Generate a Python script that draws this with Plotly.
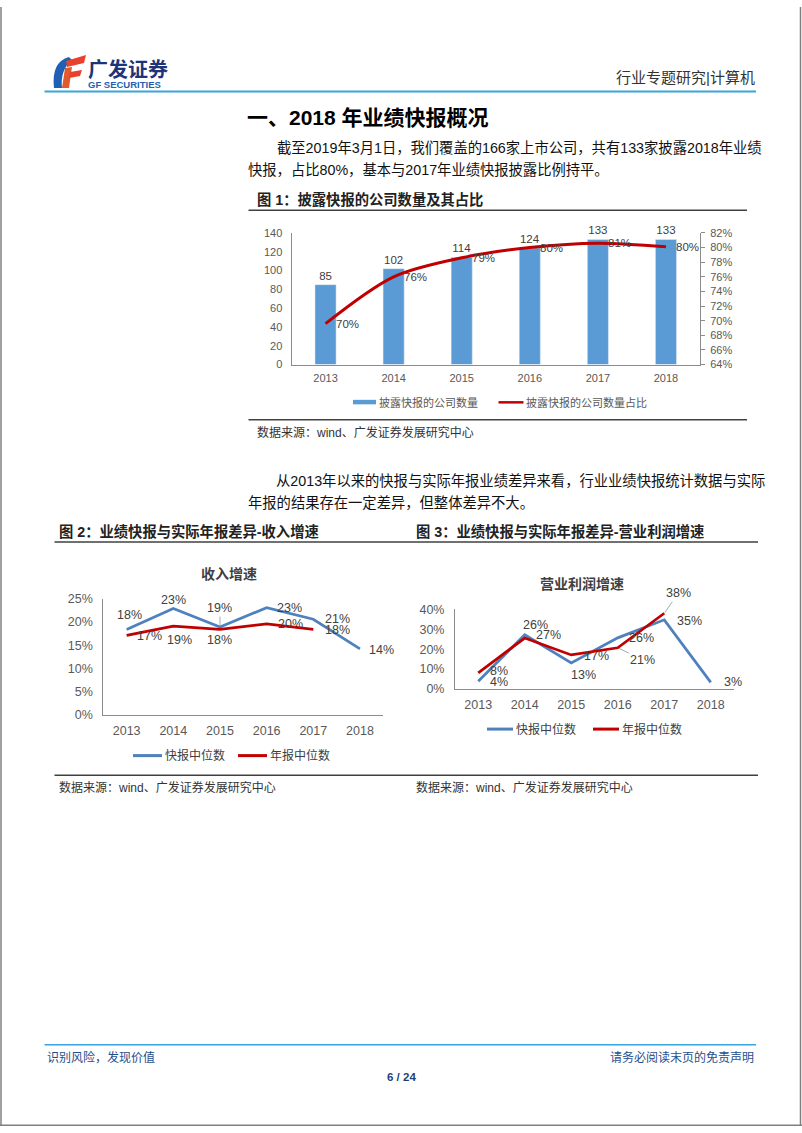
import plotly.graph_objects as go

PAGE_W, PAGE_H = 802, 1133
OFF = 0
W, H = PAGE_W, PAGE_H
VSCALE = 1.0133  # small vertical stretch about mid-page

# ---------------- data ----------------
years = ["2013", "2014", "2015", "2016", "2017", "2018"]
years_annual = ["2013", "2014", "2015", "2016", "2017"]

# Fig 1: companies disclosing flash reports & share
disclosed_count = [85, 102, 114, 124, 133, 133]
disclosed_ratio = [69.6, 76.0, 78.6, 80.0, 80.6, 80.1]
count_ticks = [0, 20, 40, 60, 80, 100, 120, 140]
ratio_ticks = [64, 66, 68, 70, 72, 74, 76, 78, 80, 82]

# Fig 2: revenue growth (median)
rev_flash = [18.4, 22.9, 18.9, 23.1, 20.6, 14.2]
rev_annual = [17.1, 19.1, 18.4, 19.6, 18.4]
rev_ticks = [0, 5, 10, 15, 20, 25]

# Fig 3: operating profit growth (median)
op_flash = [3.8, 27.3, 13.1, 25.7, 34.8, 3.3]
op_annual = [8.1, 25.6, 17.1, 20.7, 38.1]
op_ticks = [0, 10, 20, 30, 40]

# label offsets (px) : style only
rev_flash_off = [(3, -14, False), (0, -9, False), (0, -19, True), (23, 0, False), (24, 0, False), (22, 1, False)]
rev_annual_off = [(23, 1, False), (6, 14, False), (0, 11, False), (24, 0, False), (24, 1, False)]
op_flash_off = [(21, 1, False), (24, 0, False), (12, 12, False), (24, 0, False), (25, 1, False), (22, 0, False)]
op_annual_off = [(21, -2, False), (11, -13, False), (25, 1, False), (25, 12, True), (14, -20, True)]

# ---------------- helpers ----------------
def px(x):
    return (x - OFF) / W


def py(y):
    yy = 531 + (y - 531) * VSCALE
    return 1 - (yy - OFF) / H


def py_raw(y):
    return 1 - y / H


SANS = "Liberation Sans, Arial, Noto Sans CJK SC, sans-serif"
CJK = "Liberation Sans, Arial, Noto Sans CJK SC, sans-serif"

BLUE_BAR = "#5b9bd5"
BLUE_LINE = "#4f81bd"
RED = "#c00000"
TICK = "#595959"
LBL = "#404040"
AXIS = "#8c8c8c"

annotations = []
shapes = []


def text(x, y, s, size, color="#000000", bold=False, xanchor="left", family=CJK):
    annotations.append(dict(
        x=px(x), y=py(y), xref="paper", yref="paper", text=("<b>%s</b>" % s) if bold else s,
        showarrow=False, xanchor=xanchor, yanchor="middle",
        font=dict(size=size, color=color, family=family),
    ))


def hline(x0, x1, y, color, width):
    shapes.append(dict(type="line", xref="paper", yref="paper", x0=px(x0), x1=px(x1), y0=py(y), y1=py(y),
                       line=dict(color=color, width=width)))


def path(cmds, color):
    parts = []
    for c in cmds:
        op = c[0]
        pts = c[1:]
        parts.append(op + " " + " ".join("%.5f,%.5f" % (px(a), py(b)) for a, b in pts))
    shapes.append(dict(type="path", xref="paper", yref="paper", path=" ".join(parts) + " Z",
                       fillcolor=color, line=dict(width=0)))


def rect(x0, y0, x1, y1, color):
    shapes.append(dict(type="rect", xref="paper", yref="paper", x0=px(x0), x1=px(x1), y0=py(y1), y1=py(y0),
                       fillcolor=color, line=dict(width=0)))


# ---------------- page frame ----------------
for xx in (1, 800.5):
    shapes.append(dict(type="line", xref="paper", yref="paper", x0=px(xx), x1=px(xx), y0=py_raw(0),
                       y1=py_raw(1132.5), line=dict(color="#808080", width=1.5)))
shapes.append(dict(type="line", xref="paper", yref="paper", x0=0, x1=1, y0=py_raw(1132.3), y1=py_raw(1132.3),
                   line=dict(color="#808080", width=1.5)))

# ---------------- header ----------------
path([("M", (69, 57)), ("Q", (51, 62), (54, 88)), ("L", (62, 88)), ("Q", (60, 70), (72, 60))], "#1f5fb4")
path([("M", (66, 61)), ("L", (86, 55)), ("L", (84, 63)), ("L", (67, 67))], "#e8412c")
path([("M", (65, 68)), ("L", (72, 67)), ("L", (69, 88)), ("L", (62, 88))], "#e25a2c")
path([("M", (70, 72)), ("L", (82, 70)), ("L", (80, 76)), ("L", (69, 78))], "#e8412c")
text(86, 70, "广发证券", 20, "#1d3479", bold=True)
text(86, 84.5, "GF SECURITIES", 9.5, "#1f5fb4", bold=True, family=SANS)
text(757, 77, "行业专题研究|计算机", 15, "#333333", xanchor="right")
hline(44.5, 756, 91.5, "#3aa3dd", 2)

# ---------------- title & paragraph ----------------
text(245, 117, "一、2018 年业绩快报概况", 21, "#000000", bold=True)
text(275, 148, "截至2019年3月1日，我们覆盖的166家上市公司，共有133家披露2018年业绩", 14.3, "#111111")
text(246, 170, "快报，占比80%，基本与2017年业绩快报披露比例持平。", 14.3, "#111111")

# ---------------- figure 1 ----------------
text(255, 199, "图 1：披露快报的公司数量及其占比", 14.3, "#222222", bold=True)
hline(248.5, 747, 210, "#404040", 1.5)
hline(248.5, 747, 419.5, "#404040", 1.5)
text(255, 432, "数据来源：wind、广发证券发展研究中心", 12, "#333333")
# legend
rect(353, 399.5, 376, 404, BLUE_BAR)
text(377, 402, "披露快报的公司数量", 11, TICK)
hline(498.5, 523.5, 402, RED, 2.5)
text(524, 402, "披露快报的公司数量占比", 11, TICK)

# ---------------- paragraph 2 ----------------
text(274, 481, "从2013年以来的快报与实际年报业绩差异来看，行业业绩快报统计数据与实际", 14.3, "#111111")
text(246, 503, "年报的结果存在一定差异，但整体差异不大。", 14.3, "#111111")

# ---------------- figure 2 / 3 headers ----------------
text(57, 531, "图 2：业绩快报与实际年报差异-收入增速", 14.3, "#222222", bold=True)
text(414, 531, "图 3：业绩快报与实际年报差异-营业利润增速", 14.3, "#222222", bold=True)
hline(54.5, 758, 541.5, "#404040", 1.5)
hline(54.5, 758, 774.5, "#404040", 1.5)
text(57, 787, "数据来源：wind、广发证券发展研究中心", 12, "#333333")
text(414, 787, "数据来源：wind、广发证券发展研究中心", 12, "#333333")

# chart titles
text(228.5, 574, "收入增速", 14, LBL, bold=True, xanchor="center")
text(582, 584, "营业利润增速", 14, LBL, bold=True, xanchor="center")

# chart 2 legend
hline(133, 162, 755, BLUE_LINE, 3)
text(163, 755, "快报中位数", 12, LBL)
hline(238, 267, 755, RED, 3)
text(268, 755, "年报中位数", 12, LBL)
# chart 3 legend
hline(487, 513, 728.5, BLUE_LINE, 3)
text(514, 728.5, "快报中位数", 12, LBL)
hline(593, 619, 728.5, RED, 3)
text(620, 728.5, "年报中位数", 12, LBL)

# ---------------- footer ----------------
hline(44.5, 756, 1044, "#3aa3dd", 1.5)
text(45, 1057, "识别风险，发现价值", 12, "#1f4e8c")
text(756, 1057, "请务必阅读末页的免责声明", 12, "#1f4e8c", xanchor="right")
text(401, 1076, "6 / 24", 11.5, "#1f3f7a", bold=True, xanchor="center", family=SANS)

# ---------------- traces ----------------
fig = go.Figure()

fig.add_trace(go.Bar(
    x=years, y=disclosed_count, marker_color=BLUE_BAR, width=0.31,
    text=[str(v) for v in disclosed_count], textposition="outside",
    textfont=dict(size=11.5, color=LBL, family=SANS), cliponaxis=False,
    xaxis="x", yaxis="y", hoverinfo="skip",
))
fig.add_trace(go.Scatter(
    x=years, y=disclosed_ratio, mode="lines",
    line=dict(color=RED, width=3, shape="spline", smoothing=0.9),
    xaxis="x", yaxis="y2", hoverinfo="skip", cliponaxis=False,
))
for i, v in enumerate(disclosed_ratio):
    annotations.append(dict(x=i, y=v, xref="x", yref="y2", text="%d%%" % round(v), showarrow=False,
                            xanchor="left", yanchor="middle", xshift=8,
                            font=dict(size=11.5, color=LBL, family=SANS)))

fig.add_trace(go.Scatter(x=years, y=rev_flash, mode="lines", line=dict(color=BLUE_LINE, width=2.75),
                         xaxis="x2", yaxis="y3", hoverinfo="skip", cliponaxis=False))
fig.add_trace(go.Scatter(x=years_annual, y=rev_annual, mode="lines", line=dict(color=RED, width=2.75),
                         xaxis="x2", yaxis="y3", hoverinfo="skip", cliponaxis=False))
fig.add_trace(go.Scatter(x=years, y=op_flash, mode="lines", line=dict(color=BLUE_LINE, width=2.75),
                         xaxis="x3", yaxis="y4", hoverinfo="skip", cliponaxis=False))
fig.add_trace(go.Scatter(x=years_annual, y=op_annual, mode="lines", line=dict(color=RED, width=2.75),
                         xaxis="x3", yaxis="y4", hoverinfo="skip", cliponaxis=False))


def add_labels(vals, offs, xref, yref):
    for i, (v, (dx, dy, arrow)) in enumerate(zip(vals, offs)):
        a = dict(x=i, y=v, xref=xref, yref=yref, text="%d%%" % round(v),
                 font=dict(size=12.5, color=LBL, family=SANS), xanchor="center", yanchor="middle")
        if arrow:
            a.update(showarrow=True, ax=dx, ay=dy, arrowhead=0, arrowwidth=0.8, arrowcolor="#909090",
                     standoff=1)
        else:
            a.update(showarrow=False, xshift=dx, yshift=-dy)
        annotations.append(a)


add_labels(rev_flash, rev_flash_off, "x2", "y3")
add_labels(rev_annual, rev_annual_off, "x2", "y3")
add_labels(op_flash, op_flash_off, "x3", "y4")
add_labels(op_annual, op_annual_off, "x3", "y4")

# ---------------- axes ----------------
tickfont11 = dict(size=11, color=TICK, family=SANS)
tickfont12 = dict(size=12.5, color=TICK, family=SANS)


def xax(dom, anchor, font, standoff):
    return dict(domain=[px(dom[0]), px(dom[1])], anchor=anchor, type="category", range=[-0.5, 5.5],
                showline=True, linecolor=AXIS, linewidth=1, ticks="", showgrid=False, zeroline=False,
                tickfont=font, ticklabelstandoff=standoff, fixedrange=True)


def yax(dom, anchor, rng, tv, suffix, font, standoff):
    return dict(domain=[py(dom[1]), py(dom[0])], anchor=anchor, range=rng, tickvals=tv,
                ticktext=["%d%s" % (t, suffix) for t in tv], showline=True, linecolor=AXIS, linewidth=1,
                ticks="", showgrid=False, zeroline=False, tickfont=font, ticklabelstandoff=standoff,
                fixedrange=True)


C1 = (291.5, 700, 232.7, 364.3)
C2 = (103.3, 383.3, 598.3, 714.3)
C3 = (455, 734, 609, 688.3)

fig.update_layout(
    width=W, height=H, margin=dict(l=0, r=0, t=0, b=0), autosize=False,
    paper_bgcolor="white", plot_bgcolor="rgba(0,0,0,0)", showlegend=False,
    xaxis=xax((C1[0], C1[1]), "y", tickfont11, 3),
    yaxis=yax((C1[2], C1[3]), "x", [0, 140], count_ticks, "", tickfont11, 6),
    yaxis2=dict(overlaying="y", side="right", anchor="x", range=[64, 82], tickvals=ratio_ticks,
                ticktext=["%d%%" % t for t in ratio_ticks], showline=True, linecolor=AXIS, linewidth=1,
                ticks="outside", ticklen=4, tickcolor=AXIS, showgrid=False, zeroline=False,
                tickfont=tickfont11, ticklabelstandoff=3, fixedrange=True),
    xaxis2=xax((C2[0], C2[1]), "y3", tickfont12, 4),
    yaxis3=yax((C2[2], C2[3]), "x2", [0, 25], rev_ticks, "%", tickfont12, 7),
    xaxis3=xax((C3[0], C3[1]), "y4", tickfont12, 4),
    yaxis4=yax((C3[2], C3[3]), "x3", [0, 40], op_ticks, "%", tickfont12, 7),
    annotations=annotations, shapes=shapes,
)

fig.write_html("out.html", config={"displayModeBar": False, "staticPlot": True},
               post_script="document.body.style.margin='0';document.body.style.overflow='hidden';")
